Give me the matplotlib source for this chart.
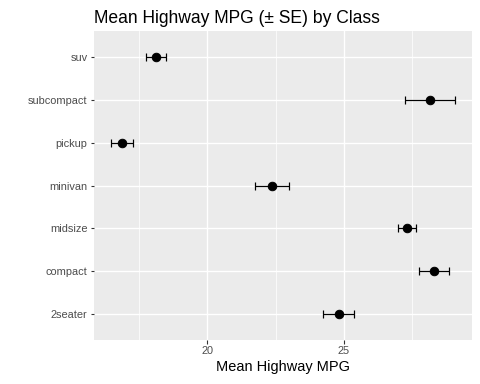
import matplotlib
matplotlib.use("Agg")
import matplotlib.pyplot as plt
import numpy as np

# mean highway mpg and standard error per vehicle class
classes = ["2seater", "compact", "midsize", "minivan", "pickup", "subcompact", "suv"]
mean_hwy = [24.80, 28.30, 27.29, 22.36, 16.88, 28.14, 18.13]
se_hwy = [0.58, 0.55, 0.33, 0.62, 0.39, 0.91, 0.38]

plt.rcParams["font.family"] = ["Liberation Sans", "DejaVu Sans"]

fig = plt.figure(figsize=(480 / 72, 384 / 72), dpi=72)
ax = fig.add_axes([94 / 480, 1 - 340 / 384, 378 / 480, 309 / 384])

ax.set_facecolor("#EBEBEB")
for s in ax.spines.values():
    s.set_visible(False)

y = np.arange(len(classes))
ax.errorbar(mean_hwy, y, xerr=se_hwy, fmt="none", ecolor="black",
            elinewidth=1.2, capsize=4, capthick=1.2, zorder=3)
ax.plot(mean_hwy, y, "o", color="black", markersize=8.5, zorder=4)

lo = min(m - s for m, s in zip(mean_hwy, se_hwy))
hi = max(m + s for m, s in zip(mean_hwy, se_hwy))
pad = 0.05 * (hi - lo)
ax.set_xlim(lo - pad, hi + pad)
ax.set_ylim(-0.6, len(classes) - 1 + 0.6)

ax.set_xticks([20, 25])
ax.set_xticks([17.5, 22.5, 27.5], minor=True)
ax.set_yticks(y)
ax.set_yticklabels(classes)
ax.grid(True, which="major", color="white", linewidth=1.4, zorder=0)
ax.grid(True, which="minor", axis="x", color="white", linewidth=0.7, zorder=0)
ax.set_axisbelow(True)

ax.tick_params(which="major", length=3.5, width=1.1, color="#333333",
               labelsize=11, labelcolor="#4D4D4D", pad=3)
ax.tick_params(which="minor", length=0)

ax.set_xlabel("Mean Highway MPG", fontsize=14.5, labelpad=3)
ax.set_title("Mean Highway MPG (\u00b1 SE) by Class", loc="left",
             fontsize=17.5, pad=8)

fig.savefig("out.png", dpi=72)
